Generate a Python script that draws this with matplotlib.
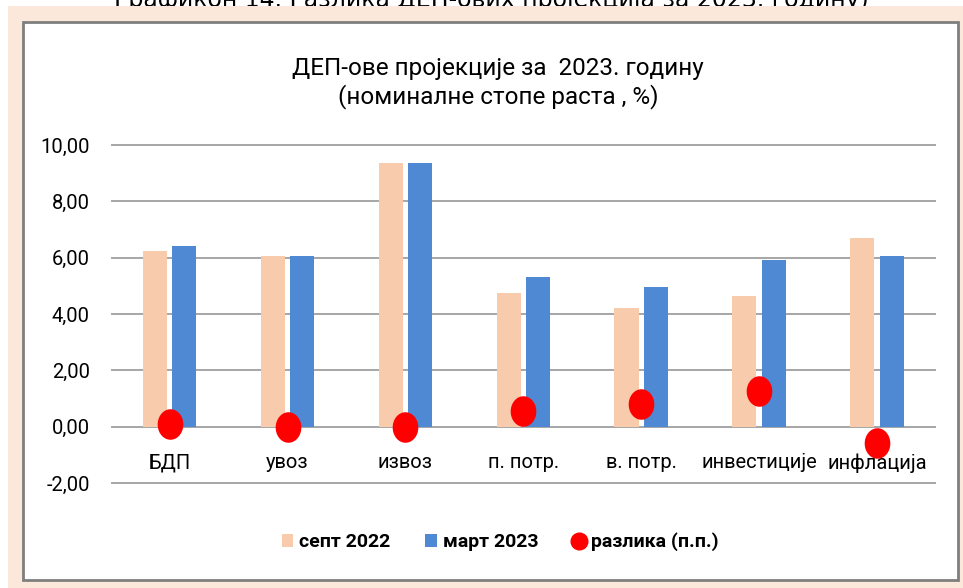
import numpy as np
import matplotlib.pyplot as plt
from matplotlib.patches import Rectangle
from matplotlib.lines import Line2D
from matplotlib.ticker import FuncFormatter

categories = ['БДП', 'увоз', 'извоз', 'п. потр.', 'в. потр.', 'инвестиције', 'инфлација']
sept_2022 = [6.25, 6.05, 9.37, 4.74, 4.2, 4.64, 6.69]
mart_2023 = [6.4, 6.05, 9.37, 5.33, 4.97, 5.92, 6.06]
razlika = [0.1, 0.0, 0.0, 0.56, 0.8, 1.27, -0.57]
yticks = [-2, 0, 2, 4, 6, 8, 10]

fig_title = 'Графикон 14. Разлика ДЕП-ових пројекција за 2023. годину)'
chart_title = 'ДЕП-ове пројекције за  2023. годину\n(номиналне стопе раста , %)'
legend_labels = ['септ 2022', 'март 2023', 'разлика (п.п.)']

c_sept = '#F8CBAD'
c_mart = '#4F88D3'
c_dot = '#FF0000'
narrow = ['Roboto', 'DejaVu Sans']

W, H = 963, 588
fig = plt.figure(figsize=(W / 100, H / 100), dpi=100, facecolor='white')

# caption of the page, cut off at the top like in the source
fig.text(0.51, 1 - 7 / H, fig_title, ha='center', va='baseline', fontsize=17,
         family='DejaVu Sans', color='black', zorder=0)
fig.patches.append(Rectangle((8 / W, 0), 1, 1 - 6 / H, transform=fig.transFigure,
                             facecolor='#FCE8DA', edgecolor='none', zorder=1))
fig.patches.append(Rectangle((23 / W, 1 - 580 / H), (958 - 23) / W, (580 - 22) / H,
                             transform=fig.transFigure, facecolor='white',
                             edgecolor='#7F7F7F', linewidth=2, zorder=2))

fig.text(498 / W, 1 - 83 / H, chart_title, ha='center', va='center', fontsize=17.5,
         family=narrow, linespacing=1.2, zorder=3)

ylo, yhi = -2.05, 10.05
px_per = (483 - 145) / 12
top_px = 145 - (yhi - 10) * px_per
bot_px = 483 + (-2 - ylo) * px_per
ax = fig.add_axes([110.7 / W, 1 - bot_px / H, (936 - 110.7) / W, (bot_px - top_px) / H])
ax.set_zorder(4)
ax.patch.set_alpha(0)

x = np.arange(len(categories))
bw = 0.205
ax.bar(x - 0.125, sept_2022, bw, color=c_sept, zorder=2)
ax.bar(x + 0.125, mart_2023, bw, color=c_mart, zorder=2)

t = np.linspace(0, 2 * np.pi, 40)
ell = np.column_stack([0.84 * np.cos(t), np.sin(t)])
ax.scatter(x, razlika, marker=ell, s=22 ** 2, color=c_dot, zorder=3, linewidths=0)

ax.set_xlim(-0.5, len(categories) - 0.5)
ax.set_ylim(ylo, yhi)
ax.set_yticks(yticks)
ax.yaxis.set_major_formatter(FuncFormatter(lambda v, p: f'{v:.2f}'.replace('.', ',')))
ax.grid(axis='y', color='#A6A6A6', linewidth=1.4, zorder=0)
ax.set_axisbelow(True)
for s in ax.spines.values():
    s.set_visible(False)
ax.spines['bottom'].set_position(('data', 0))
ax.set_xticks(x)
ax.set_xticklabels(categories, family=narrow, fontsize=14.5)
ax.tick_params(axis='x', length=0, pad=19)
ax.tick_params(axis='y', length=0, pad=15, labelsize=14.5)
for lab in ax.get_yticklabels():
    lab.set_family(narrow)

handles = [
    Rectangle((0, 0), 1, 1, facecolor=c_sept, edgecolor='none'),
    Rectangle((0, 0), 1, 1, facecolor=c_mart, edgecolor='none'),
    Line2D([], [], marker='o', linestyle='none', markersize=12, color=c_dot),
]
leg = fig.legend(handles, legend_labels, loc='center', bbox_to_anchor=(500 / W, 1 - 542 / H),
                 ncol=3, frameon=False, handlelength=0.6, handleheight=0.6,
                 handletextpad=0.3, columnspacing=1.8,
                 prop={'family': narrow, 'weight': 'bold', 'size': 14})
leg.set_zorder(5)

fig.savefig('out.png', dpi=100)
